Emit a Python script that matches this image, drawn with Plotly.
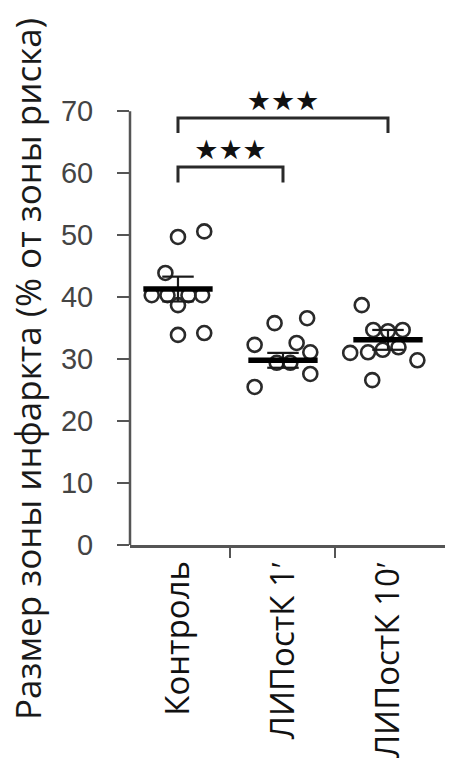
import plotly.graph_objects as go

# ---- data ----
categories = ["Контроль", "ЛИПостК 1ʹ", "ЛИПостК 10ʹ"]

control_vals = [49.7, 50.6, 43.9, 40.3, 40.3, 40.3, 40.3, 38.7, 33.9, 34.2]
control_off = [0.0, 0.25, -0.12, -0.25, -0.10, 0.10, 0.23, 0.0, 0.0, 0.25]

lipk1_vals = [35.8, 36.6, 32.3, 32.6, 31.1, 29.4, 29.4, 27.6, 25.5]
lipk1_off = [-0.08, 0.23, -0.27, 0.13, 0.26, -0.06, 0.07, 0.26, -0.27]

lipk10_vals = [38.7, 34.7, 34.7, 34.5, 31.0, 31.1, 31.5, 31.9, 29.8, 26.6]
lipk10_off = [-0.25, -0.14, 0.14, 0.0, -0.36, -0.19, -0.05, 0.10, 0.28, -0.15]

means = [41.3, 29.8, 33.1]
sems = [2.0, 1.2, 1.6]

y_ticks = [0, 10, 20, 30, 40, 50, 60, 70]
signif = ["★★★", "★★★"]
y_title = "Размер зоны инфаркта (% от зоны риска)"

# ---- figure ----
W, H = 449, 763
ML, MR, MT, MB = 130, 4, 74, 218
fig = go.Figure()

groups = [(control_vals, control_off), (lipk1_vals, lipk1_off), (lipk10_vals, lipk10_off)]
for gi, (vals, offs) in enumerate(groups):
    fig.add_trace(go.Scatter(
        x=[gi + o for o in offs], y=vals, mode="markers",
        marker=dict(symbol="circle-open", size=14, color="#2a2a2a", line=dict(width=2.6)),
        showlegend=False, hoverinfo="skip"))

half_mean = 0.33
half_cap = 0.15
for gi, (m, s) in enumerate(zip(means, sems)):
    fig.add_trace(go.Scatter(x=[gi, gi], y=[m - s, m + s], mode="lines",
                             line=dict(color="#1a1a1a", width=2.2), showlegend=False, hoverinfo="skip"))
    for yy in (m - s, m + s):
        fig.add_trace(go.Scatter(x=[gi - half_cap, gi + half_cap], y=[yy, yy], mode="lines",
                                 line=dict(color="#1a1a1a", width=2.2), showlegend=False, hoverinfo="skip"))
    fig.add_trace(go.Scatter(x=[gi - half_mean, gi + half_mean], y=[m, m], mode="lines",
                             line=dict(color="#000000", width=5.5), showlegend=False, hoverinfo="skip"))

# significance brackets
brackets = [(0, 1, 61.0, 58.5), (0, 2, 68.9, 66.5)]
for (a, b, top, bot), star in zip(brackets, signif):
    fig.add_trace(go.Scatter(x=[a, a, b, b], y=[bot, top, top, bot], mode="lines",
                             line=dict(color="#2a2a2a", width=3), showlegend=False, hoverinfo="skip"))
    fig.add_trace(go.Scatter(x=[(a + b) / 2], y=[top + 2.4], mode="text", text=[star],
                             textfont=dict(size=27, color="#111111", family="DejaVu Sans"),
                             showlegend=False, hoverinfo="skip"))

fig.add_shape(type="line", xref="paper", yref="y", x0=0, x1=0, y0=0, y1=70,
              line=dict(color="#555555", width=2.5))

fig.add_annotation(text=y_title, textangle=-90, xref="paper", yref="paper",
                   x=(27 - ML) / (W - ML - MR), y=(H - MB - 369) / (H - MT - MB),
                   xanchor="center", yanchor="middle", showarrow=False,
                   font=dict(size=35, color="#1a1a1a", family="Open Sans"))

fig.update_layout(
    width=W, height=H, margin=dict(l=ML, r=MR, t=MT, b=MB, autoexpand=False),
    paper_bgcolor="white", plot_bgcolor="white",
    xaxis=dict(range=[-0.457, 2.543], tickmode="array", tickvals=[0, 1, 2], ticktext=categories,
               tickangle=-90, ticks="", showgrid=False, zeroline=False, automargin=False,
               showline=True, linecolor="#555555", linewidth=2.5,
               tickfont=dict(size=33, color="#111111", family="Open Sans"),
               minor=dict(tickmode="array", tickvals=[0.5, 1.5], ticks="outside", ticklen=10,
                          tickwidth=2, tickcolor="#555555")),
    yaxis=dict(range=[0, 76], tickmode="array", tickvals=y_ticks, ticks="outside", ticklen=12,
               tickwidth=2, tickcolor="#555555", showgrid=False, zeroline=False, showline=False,
               ticklabelstandoff=18, automargin=False,
               tickfont=dict(size=29, color="#444444", family="Liberation Sans")),
)

fig.write_html("out.html", config={"displayModeBar": False},
               post_script="document.body.style.margin='0';")
